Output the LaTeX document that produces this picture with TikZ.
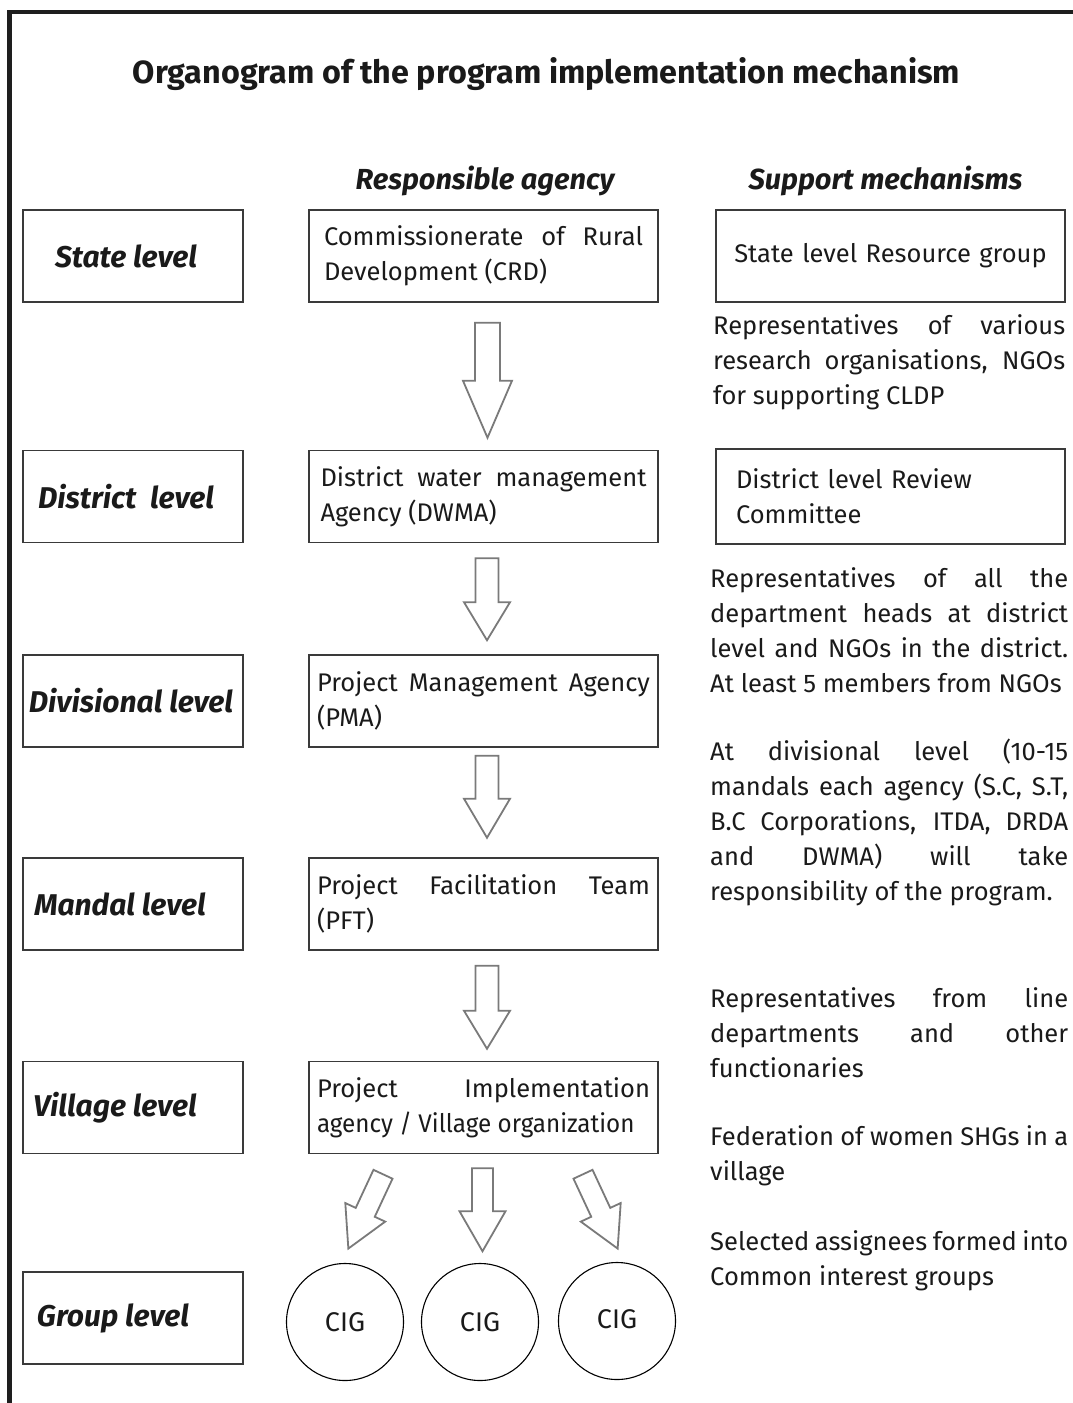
\documentclass[tikz,border=0pt]{standalone}
\usepackage{fontspec}
\setmainfont{Fira Sans}
\usetikzlibrary{calc}

\definecolor{framegray}{HTML}{1E1E1E}
\definecolor{boxgray}{HTML}{3A3A3A}
\definecolor{arrowgray}{HTML}{7A7A7A}
\definecolor{textgray}{HTML}{1A1A1A}

\tikzset{
    every node/.style={text=textgray, font=\fontsize{25.5}{35}\selectfont},
    levelbox/.style={draw=boxgray, line width=1.5pt, minimum width=220pt, minimum height=92pt,
        font=\fontsize{30}{34}\selectfont\bfseries\itshape},
    agencybox/.style={draw=boxgray, line width=1.5pt, minimum width=349pt, minimum height=92pt,
        text width=333pt, inner sep=8pt, align=justify},
    supportbox/.style={draw=boxgray, line width=1.5pt, minimum width=349pt, minimum height=92pt,
        text width=309pt, inner sep=20pt},
    colhead/.style={anchor=base, font=\fontsize{29}{34}\selectfont\bfseries\itshape},
    note/.style={anchor=north west, text width=358pt, inner sep=0pt, align=justify},
    cig/.style={draw=black, circle, line width=1.1pt, minimum size=117pt, inner sep=0pt,
        font=\fontsize{27}{30}\selectfont},
    arrowline/.style={draw=arrowgray, line width=1.8pt, fill=white, line join=miter},
    pics/downarrow/.style args={#1/#2/#3/#4}{code={
        \path[arrowline] (-#1,0) -- (#1,0) -- (#1,#3) -- (#2,#3) -- (0,#4)
            -- (-#2,#3) -- (-#1,#3) -- cycle;
    }},
}

\begin{document}
\begin{tikzpicture}[x=1pt, y=-1pt]
    \useasboundingbox (0,0) rectangle (1073,1403);
    \draw[framegray, line width=4.5pt] (9.5,1403) -- (9.5,12) -- (1073,12);

    % title and column heads
    \node[anchor=base] (title) at (546.5,83)
        {\resizebox{827pt}{26pt}{\bfseries Organogram of the program implementation mechanism}};
    \node[colhead] (hagency) at (485,189) {Responsible agency};
    \node[colhead] (hsupport) at (885.5,189) {Support mechanisms};

    % levels
    \node[levelbox] (lstate) at (133,256) {State level\hspace*{14pt}};
    \node[levelbox] (ldistrict) at (133,496.5) {District\ \ level\hspace*{14pt}};
    \node[levelbox] (ldivision) at (133,701) {Divisional level\hspace*{4pt}};
    \node[levelbox] (lmandal) at (133,904) {Mandal level\hspace*{26pt}};
    \node[levelbox] (lvillage) at (133,1107.5) {Village level\hspace*{36pt}};
    \node[levelbox] (lgroup) at (133,1318) {Group level\hspace*{40pt}};

    % responsible agencies
    \node[agencybox, text width=319pt] (crd) at (483.5,256)
        {Commissionerate of Rural\linebreak Development (CRD)};
    \node[agencybox, text width=326pt] (dwma) at (483.5,496.5)
        {District water management\linebreak Agency (DWMA)};
    \node[agencybox] (pma) at (483.5,701)
        {Project Management Agency\linebreak (PMA)};
    \node[agencybox] (pft) at (483.5,904)
        {Project Facilitation Team\linebreak (PFT)};
    \node[agencybox] (village) at (483.5,1107.5)
        {Project Implementation\linebreak \scalebox{0.95}[1]{agency / Village organization}};

    \node[cig] (cigA) at (345,1322) {CIG};
    \node[cig] (cigB) at (480,1322) {CIG};
    \node[cig] (cigC) at (617,1321) {\raisebox{4pt}{CIG}};

    % block arrows
    \pic at ([shift={(4,20)}]crd.south) {downarrow=12.5/24.5/58/115};
    \pic at ([shift={(3.5,15)}]dwma.south) {downarrow=11.5/23/44/82};
    \pic at ([shift={(3.5,8)}]pma.south) {downarrow=11.5/23/43/82};
    \pic at ([shift={(3.5,15)}]pft.south) {downarrow=11.5/23/45/83};
    \pic at ([shift={(-1,14)}]village.south) {downarrow=10.5/23/43/83};
    \pic[rotate=-25] at ([shift={(-100.5,20)}]village.south) {downarrow=10.5/22/42/82};
    \pic[rotate=25] at ([shift={(99.5,20)}]village.south) {downarrow=10.5/22/42/82};

    % support mechanisms
    \node[supportbox, text width=335pt, inner sep=7pt, align=center] (srg) at (890.5,256)
        {State level Resource group};
    \node[supportbox, align=left] (drc) at (890.5,496.5) {District level Review\\Committee};

    \node[note, text width=352pt] (nstate) at (713,314)
        {Representatives of various\linebreak research organisations, NGOs\linebreak for supporting CLDP};
    \node[note] (ndistrict) at (710,567)
        {Representatives of all the\linebreak department heads at district\linebreak
         level and NGOs in the district.\linebreak At least 5 members from NGOs};
    \node[note] (ndivision) at (710,739)
        {At divisional level (10-15\linebreak mandals each agency (S.C, S.T,\linebreak
         B.C Corporations, ITDA, DRDA\linebreak and DWMA) will take\linebreak
         responsibility of the program.};
    \node[note] (nmandal) at (710,987)
        {Representatives from line\linebreak departments and other\linebreak functionaries};
    \node[note] (nvillage) at (710,1125)
        {Federation of women SHGs in a\linebreak village};
    \node[note] (ngroup) at (710,1230)
        {Selected assignees formed into\linebreak Common interest groups};
\end{tikzpicture}
\end{document}
